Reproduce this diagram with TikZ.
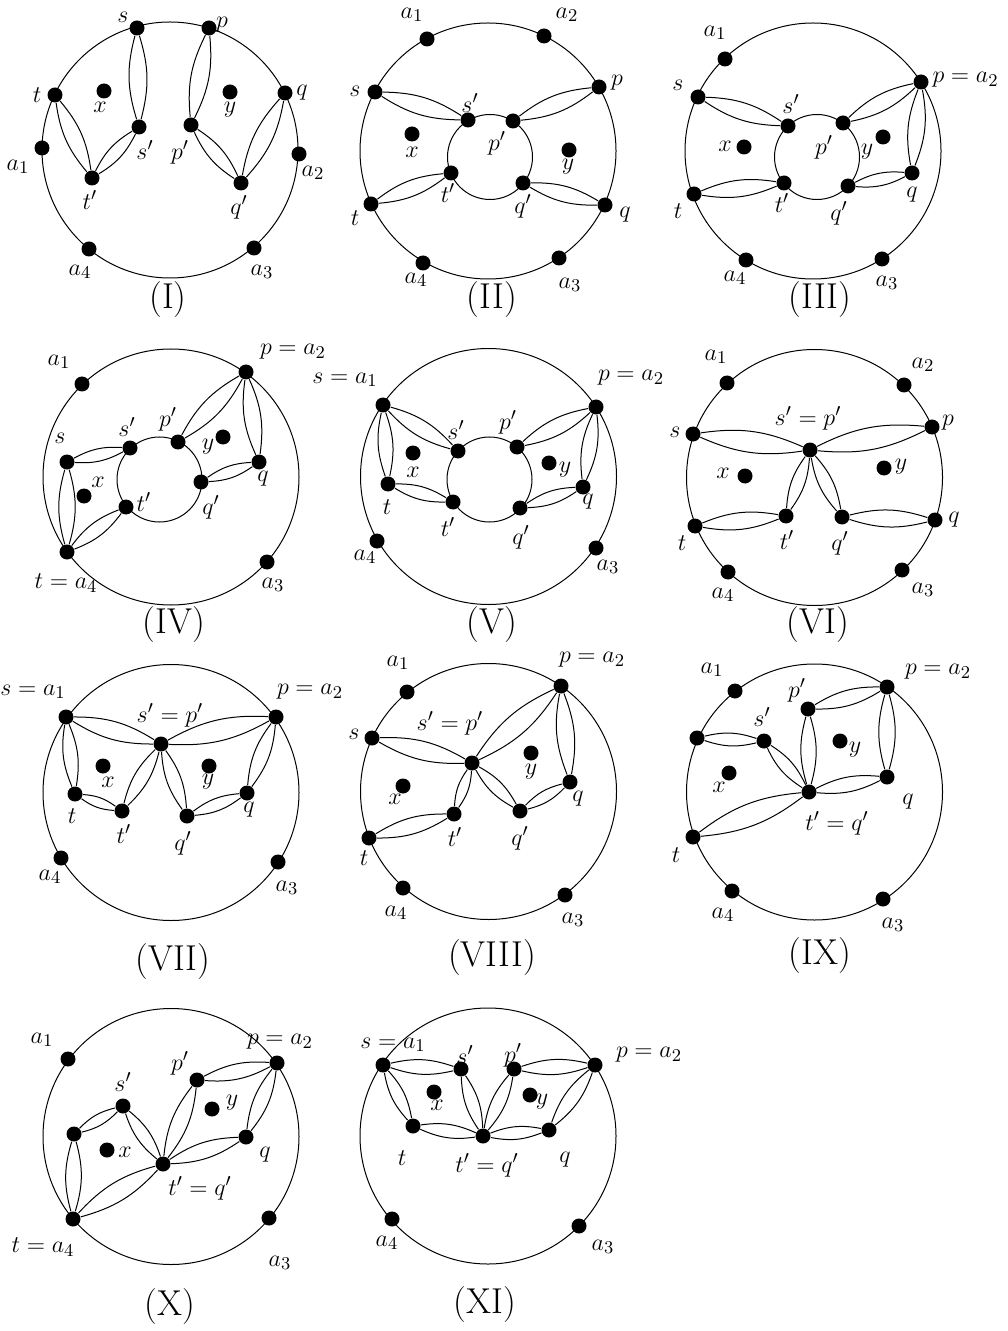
\documentclass[tikz,border=0pt]{standalone}
\newcommand\lens[3][16]{\draw (#2) to[bend left=#1] (#3) (#2) to[bend right=#1] (#3);}
\begin{document}
\begin{tikzpicture}[x=0.5pt,y=-0.5pt,line width=0.5pt,
  vtx/.style={circle,fill=black,inner sep=0pt,minimum size=7.5pt},
  lbl/.style={inner sep=0pt,font=\fontsize{12.5}{15}\selectfont},
  captxt/.style={inner sep=0pt,font=\fontsize{18}{21}\selectfont}]
\useasboundingbox (0,0) rectangle (1007,1331);

% ---------------- Panel I ----------------
\draw (170,150) circle[radius=64pt];
\node[vtx] (I-s) at (137,28) {};
\node[vtx] (I-p) at (209,28) {};
\node[vtx] (I-t) at (55,95) {};
\node[vtx] (I-x) at (104,91) {};
\node[vtx] (I-sp) at (139,127) {};
\node[vtx] (I-tp) at (92,178) {};
\node[vtx] (I-a1) at (42,148) {};
\node[vtx] (I-a4) at (89,249) {};
\node[vtx] (I-y) at (230,92) {};
\node[vtx] (I-q) at (285,93) {};
\node[vtx] (I-pp) at (191,125) {};
\node[vtx] (I-qp) at (241,183) {};
\node[vtx] (I-a2) at (299,154) {};
\node[vtx] (I-a3) at (254,248) {};
\lens{I-s}{I-sp}\lens{I-t}{I-tp}\lens{I-tp}{I-sp}
\lens{I-p}{I-pp}\lens{I-pp}{I-qp}\lens{I-qp}{I-q}
\node[lbl] (I-ls) at (123,17) {$s$};
\node[lbl] (I-lp) at (222,25) {$p$};
\node[lbl] (I-lt) at (37,95) {$t$};
\node[lbl] (I-lx) at (100,107) {$x$};
\node[lbl] (I-lsp) at (145,150) {$s'$};
\node[lbl] (I-ltp) at (90,200) {$t'$};
\node[lbl] (I-la1) at (18,167) {$a_1$};
\node[lbl] (I-la4) at (80,272) {$a_4$};
\node[lbl] (I-ly) at (230,110) {$y$};
\node[lbl] (I-lq) at (302,93) {$q$};
\node[lbl] (I-lpp) at (180,152) {$p'$};
\node[lbl] (I-lqp) at (239,207) {$q'$};
\node[lbl] (I-la2) at (313,173) {$a_2$};
\node[lbl] (I-la3) at (262,272) {$a_3$};
\node[captxt] (I-cap) at (168,300) {(I)};

% ---------------- Panel II ----------------
\draw (488,151) circle[radius=64pt];
\draw (490,157) circle[radius=21.25pt];
\node[vtx] (II-a1) at (427,39) {};
\node[vtx] (II-a2) at (544,36) {};
\node[vtx] (II-s) at (375,92) {};
\node[vtx] (II-p) at (599,87) {};
\node[vtx] (II-sp) at (468,120) {};
\node[vtx] (II-pp) at (513,121) {};
\node[vtx] (II-x) at (412,134) {};
\node[vtx] (II-y) at (569,150) {};
\node[vtx] (II-tp) at (451,173) {};
\node[vtx] (II-qp) at (523,183) {};
\node[vtx] (II-t) at (371,204) {};
\node[vtx] (II-q) at (605,205) {};
\node[vtx] (II-a4) at (423,263) {};
\node[vtx] (II-a3) at (559,258) {};
\lens{II-s}{II-sp}\lens{II-pp}{II-p}\lens{II-t}{II-tp}\lens{II-qp}{II-q}
\node[lbl] (II-la1) at (412,15) {$a_1$};
\node[lbl] (II-la2) at (567,15) {$a_2$};
\node[lbl] (II-ls) at (355,91) {$s$};
\node[lbl] (II-lp) at (617,83) {$p$};
\node[lbl] (II-lsp) at (470,103) {$s'$};
\node[lbl] (II-lpp) at (497,143) {$p'$};
\node[lbl] (II-lx) at (412,152) {$x$};
\node[lbl] (II-ly) at (568,167) {$y$};
\node[lbl] (II-ltp) at (448,193) {$t'$};
\node[lbl] (II-lqp) at (523,206) {$q'$};
\node[lbl] (II-lt) at (355,218) {$t$};
\node[lbl] (II-lq) at (625,215) {$q$};
\node[lbl] (II-la4) at (416,280) {$a_4$};
\node[lbl] (II-la3) at (570,285) {$a_3$};
\node[captxt] (II-cap) at (492,300) {(II)};

% ---------------- Panel III ----------------
\draw (813,151) circle[radius=64pt];
\draw (817,157) circle[radius=21.25pt];
\node[vtx] (III-a1) at (725,59) {};
\node[vtx] (III-s) at (698,97) {};
\node[vtx] (III-p) at (921,82) {};
\node[vtx] (III-sp) at (788,126) {};
\node[vtx] (III-pp) at (843,123) {};
\node[vtx] (III-y) at (883,137) {};
\node[vtx] (III-x) at (744,147) {};
\node[vtx] (III-tp) at (784,183) {};
\node[vtx] (III-qp) at (848,186) {};
\node[vtx] (III-q) at (912,173) {};
\node[vtx] (III-t) at (694,194) {};
\node[vtx] (III-a4) at (746,260) {};
\node[vtx] (III-a3) at (882,259) {};
\lens{III-s}{III-sp}\lens{III-pp}{III-p}\lens{III-t}{III-tp}\lens{III-qp}{III-q}\lens{III-p}{III-q}
\node[lbl] (III-la1) at (715,33) {$a_1$};
\node[lbl,anchor=west] (III-lp) at (932,80) {$p=a_2$};
\node[lbl] (III-ls) at (678,85) {$s$};
\node[lbl] (III-lsp) at (791,104) {$s'$};
\node[lbl] (III-lpp) at (824,147) {$p'$};
\node[lbl] (III-ly) at (867,152) {$y$};
\node[lbl] (III-lx) at (725,146) {$x$};
\node[lbl] (III-ltp) at (782,203) {$t'$};
\node[lbl] (III-lqp) at (839,213) {$q'$};
\node[lbl] (III-lq) at (912,195) {$q$};
\node[lbl] (III-lt) at (678,211) {$t$};
\node[lbl] (III-la4) at (735,278) {$a_4$};
\node[lbl] (III-la3) at (887,283) {$a_3$};
\node[captxt] (III-cap) at (820,300) {(III)};

% ---------------- Panel IV ----------------
\draw (171,477) circle[radius=64pt];
\draw (159.5,479.5) circle[radius=21.25pt];
\node[vtx] (IV-a1) at (82,384) {};
\node[vtx] (IV-p) at (246,372) {};
\node[vtx] (IV-sp) at (130,448) {};
\node[vtx] (IV-pp) at (178,442) {};
\node[vtx] (IV-y) at (223,437) {};
\node[vtx] (IV-s) at (67,462) {};
\node[vtx] (IV-q) at (259,462) {};
\node[vtx] (IV-x) at (84,496) {};
\node[vtx] (IV-qp) at (201,482) {};
\node[vtx] (IV-tp) at (126,507) {};
\node[vtx] (IV-t) at (67,552) {};
\node[vtx] (IV-a3) at (267,562) {};
\lens{IV-s}{IV-sp}\lens{IV-s}{IV-t}\lens{IV-t}{IV-tp}\lens{IV-pp}{IV-p}\lens{IV-p}{IV-q}\lens{IV-qp}{IV-q}
\node[lbl] (IV-la1) at (59,362) {$a_1$};
\node[lbl] (IV-lp) at (293,352) {$p=a_2$};
\node[lbl] (IV-lsp) at (127,427) {$s'$};
\node[lbl] (IV-lpp) at (168,419) {$p'$};
\node[lbl] (IV-ls) at (60,438) {$s$};
\node[lbl] (IV-ly) at (208,447) {$y$};
\node[lbl] (IV-lx) at (98,482) {$x$};
\node[lbl] (IV-ltp) at (144,502) {$t'$};
\node[lbl] (IV-lq) at (263,479) {$q$};
\node[lbl] (IV-lqp) at (211,507) {$q'$};
\node[lbl] (IV-lt) at (66,583) {$t=a_4$};
\node[lbl] (IV-la3) at (273,585) {$a_3$};
\node[captxt] (IV-cap) at (174,625) {(IV)};

% ---------------- Panel V ----------------
\draw (488.5,476.5) circle[radius=64pt];
\draw (489.5,479.5) circle[radius=21.25pt];
\node[vtx] (V-s) at (383,405) {};
\node[vtx] (V-p) at (596,407) {};
\node[vtx] (V-sp) at (458,451) {};
\node[vtx] (V-pp) at (517,447) {};
\node[vtx] (V-x) at (413,453) {};
\node[vtx] (V-y) at (549,463) {};
\node[vtx] (V-t) at (388,484) {};
\node[vtx] (V-q) at (583,487) {};
\node[vtx] (V-tp) at (453,502) {};
\node[vtx] (V-qp) at (520,508) {};
\node[vtx] (V-a4) at (377,541) {};
\node[vtx] (V-a3) at (596,548) {};
\lens{V-s}{V-sp}\lens{V-s}{V-t}\lens{V-t}{V-tp}\lens{V-pp}{V-p}\lens{V-p}{V-q}\lens{V-qp}{V-q}
\node[lbl] (V-ls) at (345,380) {$s=a_1$};
\node[lbl] (V-lp) at (631,378) {$p=a_2$};
\node[lbl] (V-lsp) at (456,430) {$s'$};
\node[lbl] (V-lpp) at (508,422) {$p'$};
\node[lbl] (V-lx) at (413,472) {$x$};
\node[lbl] (V-ly) at (565,470) {$y$};
\node[lbl] (V-lt) at (387,507) {$t$};
\node[lbl] (V-lq) at (588,502) {$q$};
\node[lbl] (V-ltp) at (448,527) {$t'$};
\node[lbl] (V-lqp) at (521,537) {$q'$};
\node[lbl] (V-la4) at (365,557) {$a_4$};
\node[lbl] (V-la3) at (608,567) {$a_3$};
\node[captxt] (V-cap) at (492,625) {(V)};

% ---------------- Panel VI ----------------
\draw (814.5,477.5) circle[radius=64pt];
\node[vtx] (VI-a1) at (727,383) {};
\node[vtx] (VI-a2) at (904,385) {};
\node[vtx] (VI-s) at (693,434) {};
\node[vtx] (VI-p) at (932,427) {};
\node[vtx] (VI-sp) at (810,450) {};
\node[vtx] (VI-x) at (745,476) {};
\node[vtx] (VI-y) at (884,468) {};
\node[vtx] (VI-t) at (695,526) {};
\node[vtx] (VI-tp) at (786,516) {};
\node[vtx] (VI-qp) at (842,517) {};
\node[vtx] (VI-q) at (935,520) {};
\node[vtx] (VI-a4) at (728,572) {};
\node[vtx] (VI-a3) at (902,570) {};
\lens{VI-s}{VI-sp}\lens{VI-sp}{VI-p}\lens{VI-t}{VI-tp}\lens{VI-tp}{VI-sp}\lens{VI-sp}{VI-qp}\lens{VI-qp}{VI-q}
\node[lbl] (VI-la1) at (716,357) {$a_1$};
\node[lbl] (VI-la2) at (923,365) {$a_2$};
\node[lbl] (VI-lsp) at (808,418) {$s'=p'$};
\node[lbl] (VI-ls) at (675,432) {$s$};
\node[lbl] (VI-lp) at (948,423) {$p$};
\node[lbl] (VI-lx) at (723,473) {$x$};
\node[lbl] (VI-ly) at (901,467) {$y$};
\node[lbl] (VI-lt) at (682,543) {$t$};
\node[lbl] (VI-ltp) at (787,540) {$t'$};
\node[lbl] (VI-lqp) at (840,543) {$q'$};
\node[lbl] (VI-lq) at (954,520) {$q$};
\node[lbl] (VI-la4) at (723,595) {$a_4$};
\node[lbl] (VI-la3) at (923,590) {$a_3$};
\node[captxt] (VI-cap) at (818,625) {(VI)};

% ---------------- Panel VII ----------------
\draw (171,792.5) circle[radius=64pt];
\node[vtx] (VII-s) at (66,717) {};
\node[vtx] (VII-p) at (276,717) {};
\node[vtx] (VII-sp) at (161,744) {};
\node[vtx] (VII-x) at (103,766) {};
\node[vtx] (VII-y) at (209,766) {};
\node[vtx] (VII-t) at (75,794) {};
\node[vtx] (VII-q) at (247,793) {};
\node[vtx] (VII-tp) at (122,811) {};
\node[vtx] (VII-qp) at (187,816) {};
\node[vtx] (VII-a4) at (61,858) {};
\node[vtx] (VII-a3) at (278,862) {};
\lens{VII-s}{VII-sp}\lens{VII-sp}{VII-p}\lens{VII-s}{VII-t}\lens{VII-t}{VII-tp}
\lens{VII-tp}{VII-sp}\lens{VII-sp}{VII-qp}\lens{VII-qp}{VII-q}\lens{VII-q}{VII-p}
\node[lbl] (VII-ls) at (33,692) {$s=a_1$};
\node[lbl] (VII-lp) at (310,692) {$p=a_2$};
\node[lbl] (VII-lsp) at (170,715) {$s'=p'$};
\node[lbl] (VII-lx) at (108,782) {$x$};
\node[lbl] (VII-ly) at (208,782) {$y$};
\node[lbl] (VII-lt) at (72,816) {$t$};
\node[lbl] (VII-lq) at (249,810) {$q$};
\node[lbl] (VII-ltp) at (124,834) {$t'$};
\node[lbl] (VII-lqp) at (183,843) {$q'$};
\node[lbl] (VII-la4) at (50,877) {$a_4$};
\node[lbl] (VII-la3) at (287,888) {$a_3$};
\node[captxt] (VII-cap) at (173,962) {(VII)};

% ---------------- Panel VIII ----------------
\draw (488.5,791.5) circle[radius=64pt];
\node[vtx] (VIII-a1) at (407,692) {};
\node[vtx] (VIII-p) at (561,686) {};
\node[vtx] (VIII-s) at (372,738) {};
\node[vtx] (VIII-sp) at (472,763) {};
\node[vtx] (VIII-y) at (531,753) {};
\node[vtx] (VIII-x) at (403,786) {};
\node[vtx] (VIII-q) at (570,782) {};
\node[vtx] (VIII-tp) at (454,814) {};
\node[vtx] (VIII-qp) at (520,811) {};
\node[vtx] (VIII-t) at (369,838) {};
\node[vtx] (VIII-a4) at (403,888) {};
\node[vtx] (VIII-a3) at (565,895) {};
\lens{VIII-s}{VIII-sp}\lens{VIII-sp}{VIII-p}\lens{VIII-sp}{VIII-tp}\lens{VIII-tp}{VIII-t}
\lens{VIII-sp}{VIII-qp}\lens{VIII-qp}{VIII-q}\lens{VIII-p}{VIII-q}
\node[lbl] (VIII-la1) at (398,663) {$a_1$};
\node[lbl] (VIII-lp) at (592,660) {$p=a_2$};
\node[lbl] (VIII-lsp) at (450,723) {$s'=p'$};
\node[lbl] (VIII-ls) at (354,734) {$s$};
\node[lbl] (VIII-ly) at (531,772) {$y$};
\node[lbl] (VIII-lx) at (395,799) {$x$};
\node[lbl] (VIII-lq) at (578,799) {$q$};
\node[lbl] (VIII-ltp) at (455,837) {$t'$};
\node[lbl] (VIII-lqp) at (520,838) {$q'$};
\node[lbl] (VIII-lt) at (364,858) {$t$};
\node[lbl] (VIII-la4) at (396,913) {$a_4$};
\node[lbl] (VIII-la3) at (573,920) {$a_3$};
\node[captxt] (VIII-cap) at (492,958) {(VIII)};

% ---------------- Panel IX ----------------
\draw (814.5,792) circle[radius=64pt];
\node[vtx] (IX-a1) at (735,691) {};
\node[vtx] (IX-p) at (887,687) {};
\node[vtx] (IX-pp) at (808,709) {};
\node[vtx] (IX-sp) at (764,741) {};
\node[vtx] (IX-y) at (840,741) {};
\node[vtx] (IX-s) at (697,738) {};
\node[vtx] (IX-x) at (729,773) {};
\node[vtx] (IX-q) at (887,777) {};
\node[vtx] (IX-tq) at (809,792) {};
\node[vtx] (IX-t) at (693,837) {};
\node[vtx] (IX-a4) at (732,891) {};
\node[vtx] (IX-a3) at (883,899) {};
\lens{IX-s}{IX-sp}\lens{IX-sp}{IX-tq}\lens{IX-pp}{IX-tq}\lens{IX-pp}{IX-p}
\lens{IX-p}{IX-q}\lens{IX-q}{IX-tq}\lens{IX-t}{IX-tq}
\node[lbl] (IX-la1) at (712,670) {$a_1$};
\node[lbl] (IX-lp) at (938,672) {$p=a_2$};
\node[lbl] (IX-lpp) at (797,690) {$p'$};
\node[lbl] (IX-lsp) at (762,717) {$s'$};
\node[lbl] (IX-ly) at (855,750) {$y$};
\node[lbl] (IX-lx) at (719,787) {$x$};
\node[lbl] (IX-lq) at (908,802) {$q$};
\node[lbl] (IX-ltq) at (837,823) {$t'=q'$};
\node[lbl] (IX-lt) at (676,855) {$t$};
\node[lbl] (IX-la4) at (723,915) {$a_4$};
\node[lbl] (IX-la3) at (893,925) {$a_3$};
\node[captxt] (IX-cap) at (820,956) {(IX)};

% ---------------- Panel X ----------------
\draw (171,1136.5) circle[radius=64pt];
\node[vtx] (X-a1) at (68,1059) {};
\node[vtx] (X-p) at (277,1063) {};
\node[vtx] (X-pp) at (197,1080) {};
\node[vtx] (X-sp) at (123,1106) {};
\node[vtx] (X-y) at (212,1109) {};
\node[vtx] (X-s) at (74,1134) {};
\node[vtx] (X-q) at (246,1137) {};
\node[vtx] (X-x) at (107,1150) {};
\node[vtx] (X-tq) at (163,1164) {};
\node[vtx] (X-t) at (73,1219) {};
\node[vtx] (X-a3) at (269,1218) {};
\lens{X-s}{X-sp}\lens{X-sp}{X-tq}\lens{X-s}{X-t}\lens{X-t}{X-tq}
\lens{X-pp}{X-tq}\lens{X-pp}{X-p}\lens{X-p}{X-q}\lens{X-q}{X-tq}
\node[lbl] (X-la1) at (42,1040) {$a_1$};
\node[lbl] (X-lp) at (280,1042) {$p=a_2$};
\node[lbl] (X-lpp) at (180,1063) {$p'$};
\node[lbl] (X-lsp) at (123,1082) {$s'$};
\node[lbl] (X-ly) at (232,1103) {$y$};
\node[lbl] (X-lx) at (125,1152) {$x$};
\node[lbl] (X-lq) at (265,1155) {$q$};
\node[lbl] (X-ltq) at (200,1188) {$t'=q'$};
\node[lbl] (X-lt) at (43,1247) {$t=a_4$};
\node[lbl] (X-la3) at (280,1263) {$a_3$};
\node[captxt] (X-cap) at (170,1307) {(X)};

% ---------------- Panel XI ----------------
\draw (488,1136) circle[radius=64pt];
\node[vtx] (XI-s) at (383,1065) {};
\node[vtx] (XI-sp) at (461,1069) {};
\node[vtx] (XI-pp) at (514,1069) {};
\node[vtx] (XI-p) at (595,1065) {};
\node[vtx] (XI-x) at (434,1092) {};
\node[vtx] (XI-y) at (530,1095) {};
\node[vtx] (XI-t) at (413,1126) {};
\node[vtx] (XI-tq) at (483,1136) {};
\node[vtx] (XI-q) at (549,1130) {};
\node[vtx] (XI-a4) at (392,1219) {};
\node[vtx] (XI-a3) at (579,1226) {};
\lens{XI-s}{XI-sp}\lens{XI-s}{XI-t}\lens{XI-t}{XI-tq}\lens{XI-sp}{XI-tq}
\lens{XI-pp}{XI-tq}\lens{XI-pp}{XI-p}\lens{XI-p}{XI-q}\lens{XI-q}{XI-tq}
\node[lbl] (XI-ls) at (393,1045) {$s=a_1$};
\node[lbl] (XI-lsp) at (465,1055) {$s'$};
\node[lbl] (XI-lpp) at (513,1055) {$p'$};
\node[lbl] (XI-lp) at (649,1055) {$p=a_2$};
\node[lbl] (XI-lx) at (437,1105) {$x$};
\node[lbl] (XI-ly) at (542,1102) {$y$};
\node[lbl] (XI-lt) at (402,1158) {$t$};
\node[lbl] (XI-ltq) at (487,1165) {$t'=q'$};
\node[lbl] (XI-lq) at (565,1160) {$q$};
\node[lbl] (XI-la4) at (387,1243) {$a_4$};
\node[lbl] (XI-la3) at (603,1247) {$a_3$};
\node[captxt] (XI-cap) at (485,1305) {(XI)};
\end{tikzpicture}
\end{document}
